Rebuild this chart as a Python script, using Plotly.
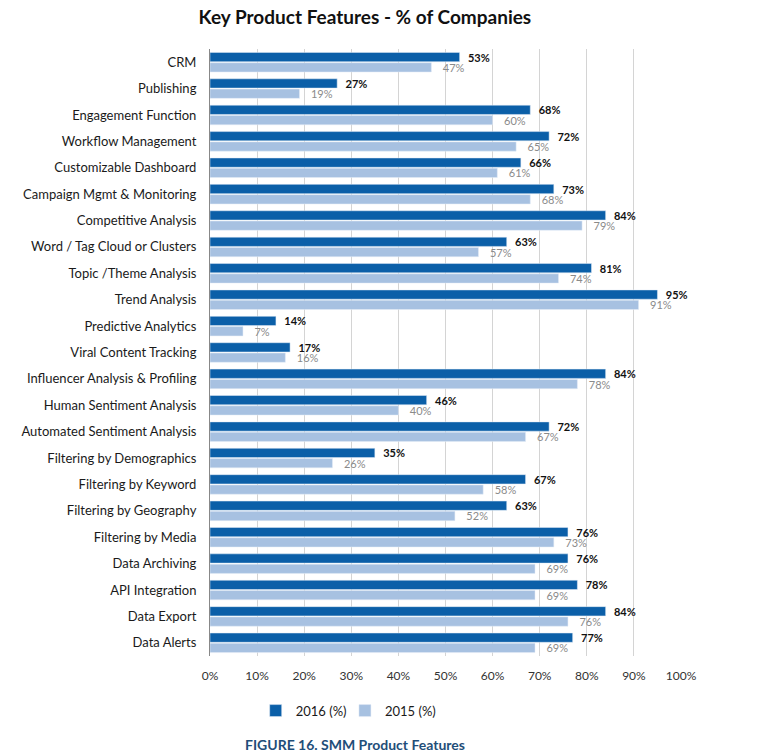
import plotly.graph_objects as go

categories = [
    "CRM", "Publishing", "Engagement Function", "Workflow Management",
    "Customizable Dashboard", "Campaign Mgmt & Monitoring", "Competitive Analysis",
    "Word / Tag Cloud or Clusters", "Topic /Theme Analysis", "Trend Analysis",
    "Predictive Analytics", "Viral Content Tracking", "Influencer Analysis & Profiling",
    "Human Sentiment Analysis", "Automated Sentiment Analysis", "Filtering by Demographics",
    "Filtering by Keyword", "Filtering by Geography", "Filtering by Media",
    "Data Archiving", "API Integration", "Data Export", "Data Alerts",
]
values_2016 = [53, 27, 68, 72, 66, 73, 84, 63, 81, 95, 14, 17, 84, 46, 72, 35, 67, 63, 76, 76, 78, 84, 77]
values_2015 = [47, 19, 60, 65, 61, 68, 79, 57, 74, 91, 7, 16, 78, 40, 67, 26, 58, 52, 73, 69, 69, 76, 69]
tick_vals = [0, 10, 20, 30, 40, 50, 60, 70, 80, 90, 100]
tick_text = [f"{v}%" for v in tick_vals]

FONT = "Lato"

labels_2016 = ["\u00a0\u00a0" + f"{v}%" for v in values_2016]
labels_2015 = ["\u00a0\u00a0\u00a0" + f"{v}%" for v in values_2015]

fig = go.Figure()
fig.add_trace(go.Bar(
    y=categories, x=values_2016, orientation="h", name="2016 (%)",
    marker=dict(color="#0B5FA8"),
    text=labels_2016, texttemplate="%{text}", textposition="outside",
    textfont=dict(family=FONT, size=11, color="#111111", weight="bold"),
    cliponaxis=False, hoverinfo="x+y", legend="legend",
))
fig.add_trace(go.Bar(
    y=categories, x=values_2015, orientation="h", name="2015 (%)",
    marker=dict(color="#A7C1E1"),
    text=labels_2015, texttemplate="%{text}", textposition="outside",
    textfont=dict(family=FONT, size=11, color="#8A8A8A"),
    cliponaxis=False, hoverinfo="x+y", legend="legend2",
))

legend_style = dict(orientation="h", xanchor="left", y=-0.09, yanchor="middle",
                    font=dict(family=FONT, size=13, color="#1A1A1A"),
                    itemwidth=30, bgcolor="rgba(0,0,0,0)")

fig.update_layout(
    width=765, height=754,
    paper_bgcolor="white", plot_bgcolor="white",
    barmode="group", bargap=0.22, bargroupgap=0.1,
    margin=dict(l=210, r=84, t=49, b=98, autoexpand=False),
    font=dict(family=FONT, size=12, color="#222222"),
    title=dict(text="<b>Key Product Features - % of Companies</b>",
               x=0.477, xanchor="center", y=0.977, yanchor="middle",
               font=dict(family=FONT, size=19, color="#111111")),
    xaxis=dict(range=[0, 100], tickvals=tick_vals, ticktext=tick_text,
               showgrid=True, gridcolor="#D4D4D4", gridwidth=1,
               zeroline=False, showline=False,
               ticks="", ticklabelstandoff=11,
               tickfont=dict(family=FONT, size=12, color="#333333")),
    yaxis=dict(autorange="reversed", showline=True, linecolor="#888888", linewidth=1,
               ticks="", ticklabelstandoff=10,
               tickfont=dict(family=FONT, size=13, color="#1A1A1A")),
    showlegend=True,
    legend=dict(x=0.097, **legend_style),
    legend2=dict(x=0.2865, **legend_style),
    uniformtext=dict(minsize=8, mode="show"),
)

fig.add_annotation(text="<b>FIGURE 16. SMM Product Features</b>",
                   xref="paper", yref="paper", x=0.308, y=-0.145,
                   xanchor="center", yanchor="middle", showarrow=False,
                   font=dict(family=FONT, size=14, color="#1F4E79"))

fig.write_html("out.html", config={"displayModeBar": False},
               post_script="document.body.style.margin='0';document.body.style.overflow='hidden';")
